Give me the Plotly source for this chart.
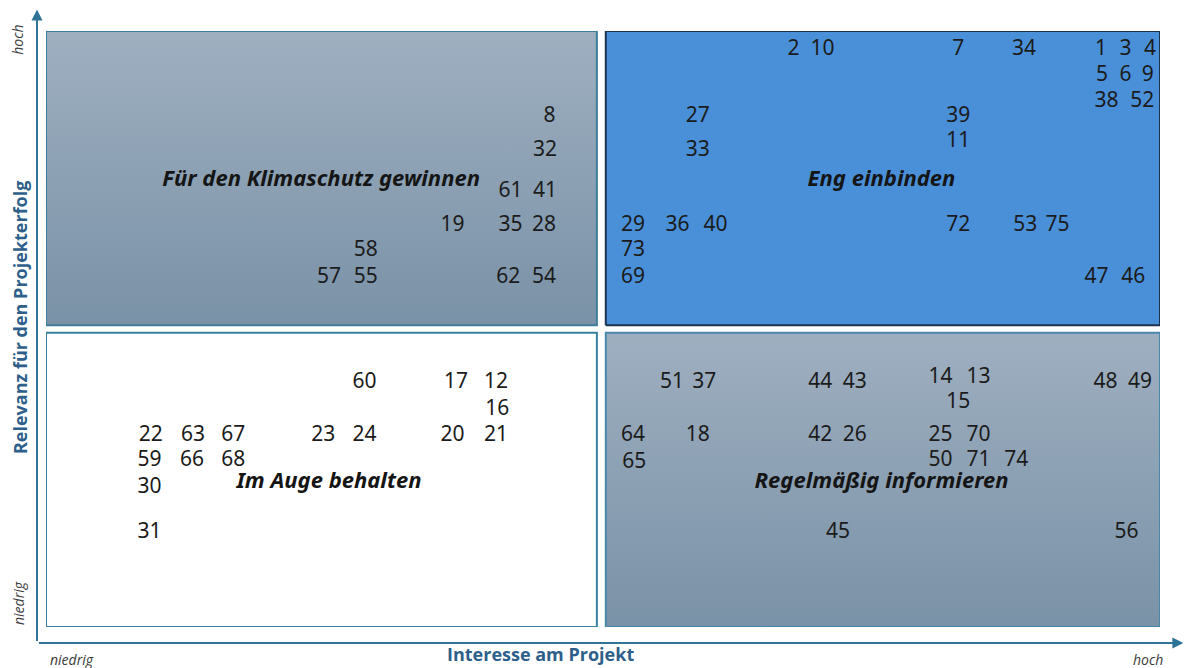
import plotly.graph_objects as go

# Stakeholder matrix: interest in the project (x) vs. relevance for project success (y), both scored 0-100
stakeholder_ids = [
    8, 32, 61, 41, 19, 35, 28, 58, 57, 55, 62, 54,
    2, 10, 7, 34, 1, 3, 4, 5, 6, 9, 38, 52, 27, 39, 33, 11,
    29, 36, 40, 72, 53, 75, 73, 69, 47, 46,
    60, 17, 12, 16, 22, 63, 67, 23, 24, 20, 21, 59, 66, 68, 30, 31,
    51, 37, 44, 43, 14, 13, 15, 48, 49, 64, 18, 42, 26, 25, 70,
    65, 50, 71, 74, 45, 56,
]
interest = [
    45.2, 44.8, 41.7, 44.8, 36.5, 41.7, 44.7, 28.7, 25.4, 28.7, 41.5, 44.7,
    67.1, 69.7, 81.9, 87.8, 94.7, 96.9, 99.1, 94.8, 96.9, 98.9, 95.2, 98.4, 58.5, 81.9, 58.5, 81.9,
    52.7, 56.7, 60.1, 81.9, 87.9, 90.8, 52.7, 52.7, 94.3, 97.6,
    28.6, 36.8, 40.4, 40.5, 9.4, 13.2, 16.8, 24.9, 28.6, 36.5, 40.4, 9.3, 13.1, 16.8, 9.3, 9.3,
    56.2, 59.1, 69.5, 72.6, 80.3, 83.7, 81.9, 95.1, 98.2, 52.7, 58.5, 69.5, 72.6, 80.3, 83.7,
    52.8, 80.3, 83.7, 87.1, 71.1, 97.0,
]
relevance = [
    85.6, 79.9, 73.0, 73.0, 67.3, 67.3, 67.3, 63.1, 58.6, 58.6, 58.6, 58.6,
    96.8, 96.8, 96.8, 96.8, 96.8, 96.8, 96.8, 92.5, 92.5, 92.5, 88.1, 88.1, 85.6, 85.6, 79.9, 81.4,
    67.3, 67.3, 67.3, 67.3, 67.3, 67.3, 63.1, 58.6, 58.6, 58.6,
    40.9, 40.9, 40.9, 36.4, 32.1, 32.1, 32.1, 32.1, 32.1, 32.1, 32.1, 27.9, 27.9, 27.9, 23.3, 15.8,
    40.9, 40.9, 40.9, 40.9, 41.9, 41.9, 37.6, 40.9, 40.9, 32.1, 32.1, 32.1, 32.1, 32.1, 32.1,
    27.5, 27.9, 27.9, 27.9, 15.8, 15.8,
]

quadrant_names = ["Für den Klimaschutz gewinnen", "Eng einbinden",
                  "Im Auge behalten", "Regelmäßig informieren"]
quadrant_label_x = [24.7, 75.0, 25.4, 75.0]
quadrant_label_y = [75.0, 75.0, 24.2, 24.2]

axis_x_title = "Interesse am Projekt"
axis_y_title = "Relevanz für den Projekterfolg"
level_low, level_high = "niedrig", "hoch"

# quadrant rectangles: (x-span, y-span, fill, border, gradient)
LEFT = (0.0, 49.45)
RIGHT = (50.25, 100.0)
TOP = (50.65, 100.0)
BOTTOM = (0.0, 49.35)
gray_grad = [[0, "#7a92a7"], [1, "#9eafc0"]]
quadrants = [
    (LEFT, TOP, None, "#3c7d9c", gray_grad),
    (RIGHT, TOP, "#4a90d9", "#1c3350", None),
    (LEFT, BOTTOM, "#ffffff", "#3a80a3", None),
    (RIGHT, BOTTOM, None, "#4a88aa", gray_grad),
]

fig = go.Figure()

for (xs, ys, fill, border, grad) in quadrants:
    rx = [xs[0], xs[1], xs[1], xs[0], xs[0]]
    ry = [ys[0], ys[0], ys[1], ys[1], ys[0]]
    trace = dict(x=rx, y=ry, mode="lines", fill="toself",
                 line=dict(color=border, width=2), hoverinfo="skip",
                 showlegend=False)
    if grad is not None:
        trace["fillgradient"] = dict(type="vertical", colorscale=grad)
    else:
        trace["fillcolor"] = fill
    fig.add_trace(go.Scatter(**trace))

# stakeholder numbers
fig.add_trace(go.Scatter(
    x=interest, y=relevance, mode="text",
    text=[str(s) for s in stakeholder_ids],
    textposition="middle center",
    textfont=dict(family="Noto Sans", size=21, color="#1b1b1b"),
    hoverinfo="text", showlegend=False,
))

# quadrant strategy labels
fig.add_trace(go.Scatter(
    x=quadrant_label_x, y=quadrant_label_y, mode="text",
    text=[f"<b><i>{n}</i></b>" for n in quadrant_names],
    textposition="middle center",
    textfont=dict(family="Noto Sans", size=22, color="#151515"),
    hoverinfo="skip", showlegend=False,
))

axis_color = "#2f7396"
title_color = "#2d5f8a"
level_font = dict(family="Open Sans", size=14, color="#3a3a3a")

annotations = [
    # y axis arrow
    dict(x=-0.0081, y=1.036, xref="paper", yref="paper", text="", showarrow=True,
         ax=0, ay=633, axref="pixel", ayref="pixel", arrowhead=2, arrowsize=1.1,
         arrowwidth=2, arrowcolor=axis_color, standoff=0),
    # x axis arrow
    dict(x=1.021, y=-0.0268, xref="paper", yref="paper", text="", showarrow=True,
         ax=-1146, ay=0, axref="pixel", ayref="pixel", arrowhead=2, arrowsize=1.1,
         arrowwidth=2, arrowcolor=axis_color, standoff=0),
    dict(x=0.444, y=-0.046, xref="paper", yref="paper", text=f"<b>{axis_x_title}</b>",
         showarrow=False, xanchor="center", yanchor="middle",
         font=dict(family="Open Sans", size=18, color=title_color)),
    dict(x=-0.0233, y=0.52, xref="paper", yref="paper", text=f"<b>{axis_y_title}</b>",
         showarrow=False, textangle=-90, xanchor="center", yanchor="middle",
         font=dict(family="Open Sans", size=18, color=title_color)),
    dict(x=0.0235, y=-0.055, xref="paper", yref="paper", text=f"<i>{level_low}</i>",
         showarrow=False, xanchor="center", yanchor="middle", font=level_font),
    dict(x=0.989, y=-0.055, xref="paper", yref="paper", text=f"<i>{level_high}</i>",
         showarrow=False, xanchor="center", yanchor="middle", font=level_font),
    dict(x=-0.0253, y=0.985, xref="paper", yref="paper", text=f"<i>{level_high}</i>",
         showarrow=False, textangle=-90, xanchor="center", yanchor="middle", font=level_font),
    dict(x=-0.0253, y=0.04, xref="paper", yref="paper", text=f"<i>{level_low}</i>",
         showarrow=False, textangle=-90, xanchor="center", yanchor="middle", font=level_font),
]

fig.update_layout(
    width=1185, height=668,
    margin=dict(l=46, r=25, t=31, b=41),
    paper_bgcolor="white", plot_bgcolor="white",
    xaxis=dict(range=[0, 100], visible=False, fixedrange=True),
    yaxis=dict(range=[0, 100], visible=False, fixedrange=True),
    annotations=annotations,
)

fig.write_html("out.html")
